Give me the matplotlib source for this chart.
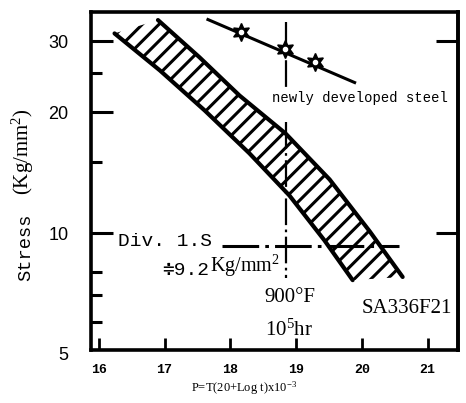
import matplotlib
matplotlib.use("Agg")
import matplotlib.pyplot as plt
from matplotlib.ticker import FixedLocator, NullFormatter, NullLocator

plt.rcParams["hatch.linewidth"] = 2.2
plt.rcParams["mathtext.fontset"] = "custom"
plt.rcParams["mathtext.rm"] = "Liberation Serif"
plt.rcParams["mathtext.it"] = "Liberation Serif:italic"

# SA336F21 scatter band (Larson-Miller parameter vs stress)
band_upper_p = [16.90, 17.53, 18.14, 18.84, 19.51, 20.12, 20.62]
band_upper_s = [33.9, 27.4, 22.0, 17.7, 13.6, 10.1, 7.78]
band_lower_p = [16.24, 16.93, 17.61, 18.29, 18.90, 19.43, 19.86]
band_lower_s = [31.4, 25.4, 20.2, 15.8, 12.4, 9.6, 7.64]

# newly developed steel
new_p = [18.17, 18.83, 19.28]
new_s = [31.6, 28.8, 26.6]
new_fit_p = [17.66, 19.89]
new_fit_s = [34.0, 23.7]

# Div. 1 allowable stress and the 900F / 1e5 hr parameter
div1_stress = 9.3
div1_p = [17.87, 20.57]
p_900f = 18.85
p_900f_upper_s = [33.5, 23.0]
p_900f_lower_s = [18.9, 7.73]

x_ticks = [16, 17, 18, 19, 20, 21]
y_ticks = [10, 20, 30]
y_minor = [6, 7, 8, 15, 25]
y_right_ticks = [10, 30]

mono = ["Liberation Mono", "DejaVu Sans Mono", "DejaVu Sans"]
serif = ["Liberation Serif", "DejaVu Serif"]
sans = ["Liberation Sans", "DejaVu Sans"]

fig = plt.figure(figsize=(4.66, 4.03), dpi=100)
ax = fig.add_axes([0.195, 0.1315, 0.7876, 0.8387])
ax.set_yscale("log")
ax.set_xlim(15.88, 21.46)
ax.set_ylim(5.12, 35.5)

# hatched band
poly_p = band_lower_p + band_upper_p[::-1]
poly_s = band_lower_s + band_upper_s[::-1]
ax.fill(poly_p, poly_s, facecolor="none", edgecolor="black", hatch="//", linewidth=0)
ax.plot(band_upper_p, band_upper_s, color="black", lw=3, solid_capstyle="round")
ax.plot(band_lower_p, band_lower_s, color="black", lw=3, solid_capstyle="round")

# dash-dot guides
dashdot = (0, (12, 2, 1.2, 2))
ax.plot(div1_p, [div1_stress, div1_stress], color="black", lw=2.2, linestyle=dashdot)
ax.plot([p_900f, p_900f], p_900f_upper_s, color="black", lw=1.6, linestyle=dashdot)
ax.plot([p_900f, p_900f], p_900f_lower_s, color="black", lw=1.6, linestyle=dashdot)

# new steel line and stars
ax.plot(new_fit_p, new_fit_s, color="black", lw=2.2)
ax.plot(new_p, new_s, linestyle="none", marker=(6, 1, 0), ms=13, color="black")
ax.plot(new_p, new_s, linestyle="none", marker="o", ms=3, color="white")

# annotations
ax.text(16.29, 9.52, "Div. 1.S", family=mono, fontsize=14, va="center", ha="left")
t1 = ax.text(16.97, 8.09, "\u22519.2", family=mono, fontsize=14, va="center", ha="left")
ax.annotate("Kg/mm$^2$", xy=(1, 0), xycoords=t1, va="bottom", ha="left",
            family=serif, fontsize=14.5)
ax.text(18.64, 21.7, "newly developed steel", family=mono, fontsize=10,
        va="center", ha="left")
ax.text(18.52, 6.93, "900\u00b0F", family=serif, fontsize=15, va="center", ha="left")
ax.text(18.52, 5.74, "10$^5$hr", family=serif, fontsize=15, va="center", ha="left")
ax.text(20.0, 6.51, "SA336F21", family=serif, fontsize=15, va="center", ha="left")

# axes styling
for side in ["left", "right", "top", "bottom"]:
    ax.spines[side].set_linewidth(2.6)

ax.set_xticks(x_ticks, labels=[str(v) for v in x_ticks])
ax.set_yticks(y_ticks, labels=[str(v) for v in y_ticks])
ax.yaxis.set_minor_locator(FixedLocator(y_minor))
ax.yaxis.set_minor_formatter(NullFormatter())
ax.xaxis.set_minor_locator(NullLocator())
ax.tick_params(axis="x", direction="in", length=9, width=2.0, pad=10)
ax.tick_params(axis="y", which="major", direction="in", length=16, width=2.2, pad=16)
ax.tick_params(axis="y", which="minor", direction="in", length=8, width=2.2)
for lab in ax.get_xticklabels():
    lab.set_family(mono)
    lab.set_fontsize(9.5)
    lab.set_fontweight("bold")
for lab in ax.get_yticklabels():
    lab.set_family(sans)
    lab.set_fontsize(13)
# the "5" label sits just below the bottom spine
ax.text(-0.062, 4.95, "5", transform=ax.get_yaxis_transform(), ha="right", va="center",
        family=sans, fontsize=13, clip_on=False)

sec = ax.secondary_yaxis("right")
sec.set_yticks(y_right_ticks)
sec.yaxis.set_minor_locator(NullLocator())
sec.tick_params(direction="in", length=16, width=2.2, labelright=False)
sec.spines["right"].set_linewidth(2.6)

fig.text(0.056, 0.387, "Stress", rotation=90, family=mono, fontsize=13.5,
         ha="center", va="center")
fig.text(0.050, 0.623, "(Kg/mm$^2$)", rotation=90, family=serif, fontsize=15,
         ha="center", va="center")
fig.text(0.524, 0.037, "P=T(20+Log t)x10$^{-3}$", family=serif, fontsize=9,
         ha="center", va="center")

fig.savefig("out.png", dpi=100)
